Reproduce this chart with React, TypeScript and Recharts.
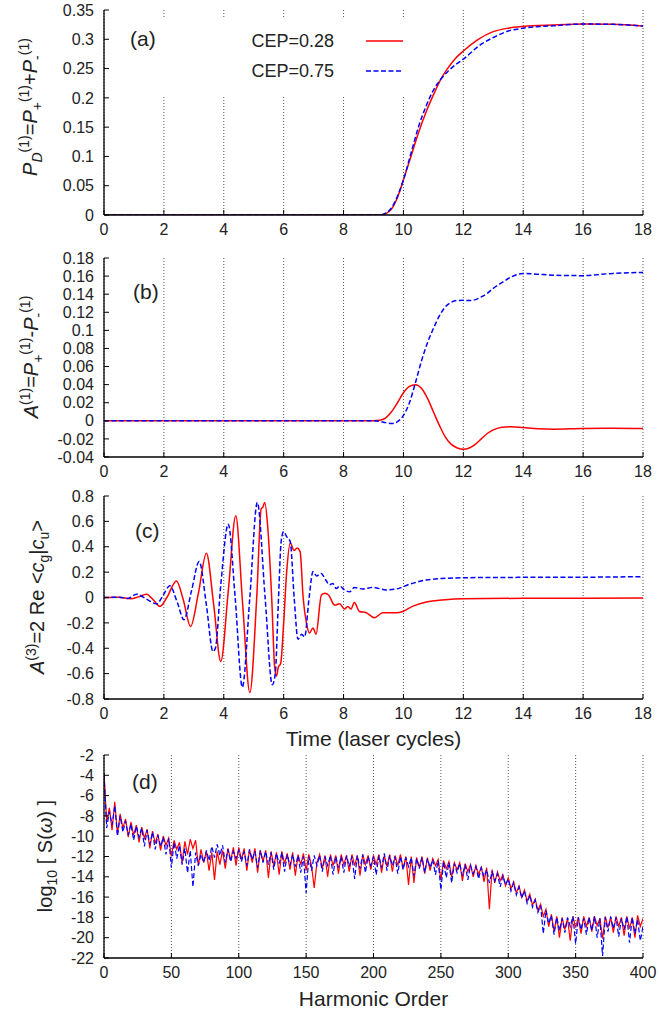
import React from 'react';
import { LineChart, Line, XAxis, YAxis, CartesianGrid, Legend } from 'recharts';

// Four stacked gnuplot-style panels: (a) population, (b) asymmetry, (c) coherence, (d) HHG spectrum.

const FONT = '"Liberation Sans", Arial, Helvetica, sans-serif';
const INK = '#222';
const RED = '#ff0000';
const BLUE = '#0000ff';
const BLUE_DASH = '5 2.5';

const RED_NAME = 'CEP=0.28';
const BLUE_NAME = 'CEP=0.75';

const timeTicks = [0, 2, 4, 6, 8, 10, 12, 14, 16, 18];
const harmonicTicks = [0, 50, 100, 150, 200, 250, 300, 350, 400];
const popTicks = [0, 0.05, 0.1, 0.15, 0.2, 0.25, 0.3, 0.35];
const asymTicks = [-0.04, -0.02, 0, 0.02, 0.04, 0.06, 0.08, 0.1, 0.12, 0.14, 0.16, 0.18];
const coherenceTicks = [-0.8, -0.6, -0.4, -0.2, 0, 0.2, 0.4, 0.6, 0.8];
const spectrumTicks = [-22, -20, -18, -16, -14, -12, -10, -8, -6, -4, -2];

// (a) P_D
const popTime = [0, 9.0, 9.2, 9.4, 9.6, 9.8, 10, 10.25, 10.5, 10.75, 11, 11.25, 11.5, 11.75, 12, 12.5, 13, 13.5, 14, 15, 16, 17, 18];
const popRed = [0, 0, 0, 0.002, 0.01, 0.03, 0.06, 0.1, 0.14, 0.175, 0.205, 0.232, 0.252, 0.268, 0.28, 0.3, 0.313, 0.319, 0.322, 0.3245, 0.326, 0.3255, 0.3225];
const popBlue = [0, 0, 0, 0.003, 0.012, 0.032, 0.06, 0.105, 0.15, 0.185, 0.213, 0.232, 0.246, 0.257, 0.266, 0.288, 0.303, 0.314, 0.319, 0.323, 0.326, 0.3255, 0.3225];

// (b) A^(1)
const asymTime = [0, 9.0, 9.2, 9.4, 9.6, 9.8, 10.0, 10.2, 10.4, 10.6, 10.8, 11.0, 11.2, 11.4, 11.6, 11.8, 12.0, 12.2, 12.4, 12.6, 12.8, 13.0, 13.3, 13.6, 14, 14.5, 15, 16, 17, 18];
const asymRed = [0, 0, 0.0005, 0.003, 0.01, 0.02, 0.031, 0.038, 0.04, 0.036, 0.025, 0.01, -0.005, -0.018, -0.026, -0.03, -0.0315, -0.03, -0.026, -0.02, -0.014, -0.01, -0.007, -0.0065, -0.0075, -0.0088, -0.0092, -0.0085, -0.0082, -0.0085];
const asymBlue = [0, 0, -0.0005, -0.002, -0.003, -0.001, 0.006, 0.02, 0.042, 0.066, 0.086, 0.102, 0.116, 0.126, 0.131, 0.133, 0.1332, 0.133, 0.134, 0.137, 0.141, 0.1465, 0.153, 0.159, 0.163, 0.162, 0.161, 0.1605, 0.163, 0.164];

// (c) A^(3)
const cohTimeRed = [0, 0.5, 0.9, 1.15, 1.42, 1.65, 1.87, 2.1, 2.42, 2.65, 2.89, 3.15, 3.42, 3.66, 3.9, 4.15, 4.4, 4.63, 4.87, 5.1, 5.25, 5.3, 5.37, 5.47, 5.6, 5.7, 5.76, 5.82, 5.9, 6.0, 6.1, 6.22, 6.35, 6.45, 6.55, 6.65, 6.76, 6.86, 6.98, 7.08, 7.26, 7.38, 7.5, 7.7, 7.87, 8.03, 8.14, 8.25, 8.36, 8.53, 8.76, 9.03, 9.31, 9.76, 9.98, 10.3, 10.76, 11.4, 12, 14, 16, 18];
const cohRed = [0, 0.002, -0.01, 0.005, 0.026, -0.02, -0.071, 0.0, 0.131, -0.02, -0.229, 0.03, 0.349, -0.05, -0.504, 0.05, 0.644, -0.05, -0.749, 0.0, 0.7, 0.71, 0.749, 0.55, 0.0, -0.55, -0.62, -0.55, -0.52, -0.2, 0.2, 0.43, 0.37, 0.39, 0.36, 0.0, -0.2, -0.28, -0.24, -0.29, 0.02, 0.034, 0.02, -0.06, -0.05, -0.09, -0.07, -0.09, -0.04, -0.11, -0.12, -0.16, -0.12, -0.12, -0.11, -0.07, -0.035, -0.017, -0.01, -0.006, -0.005, -0.004];
const cohTimeBlue = [0, 0.5, 0.8, 1.09, 1.4, 1.76, 1.98, 2.2, 2.45, 2.67, 2.92, 3.18, 3.42, 3.64, 3.72, 3.9, 4.15, 4.38, 4.62, 4.87, 5.12, 5.38, 5.62, 5.72, 5.82, 5.92, 6.0, 6.1, 6.22, 6.35, 6.48, 6.6, 6.7, 6.85, 6.98, 7.1, 7.25, 7.4, 7.53, 7.64, 7.76, 7.87, 8.03, 8.2, 8.36, 8.64, 8.98, 9.42, 9.76, 10.2, 10.76, 11.4, 12, 14.2, 16, 18];
const cohBlue = [0, 0.002, -0.008, 0.026, -0.01, -0.05, 0.02, 0.092, -0.04, -0.176, 0.05, 0.284, -0.06, -0.426, -0.4, 0.1, 0.578, 0.0, -0.707, 0.0, 0.749, 0.0, -0.688, -0.6, -0.05, 0.45, 0.52, 0.48, 0.44, 0.0, -0.33, -0.29, -0.31, 0.0, 0.205, 0.17, 0.19, 0.14, 0.1, 0.11, 0.07, 0.09, 0.06, 0.045, 0.078, 0.067, 0.08, 0.06, 0.067, 0.104, 0.138, 0.151, 0.156, 0.159, 0.16, 0.164];

// (d) log10 S(w), read every 2 harmonic orders from 0 to 400
const redSpectrum = [
  -3.7, -8.6, -7.2, -9.4, -6.6, -9.8, -7.8, -9.2, -8.3, -10.1,
  -8.6, -9.9, -8.9, -10.6, -9.1, -10.2, -9.3, -11.2, -9.5, -10.7,
  -9.8, -11.4, -10.0, -10.9, -10.2, -12.0, -10.4, -11.3, -10.6, -12.6,
  -10.5, -11.8, -10.3, -11.2, -10.4, -12.9, -11.3, -12.6, -11.5, -13.4,
  -11.6, -14.3, -11.5, -12.8, -11.4, -13.2, -11.2, -12.4, -11.1, -12.9,
  -11.1, -12.3, -11.2, -13.4, -11.3, -12.6, -11.2, -13.6, -11.4, -12.5,
  -11.4, -14.1, -11.5, -12.9, -11.6, -13.8, -11.5, -12.7, -11.7, -13.3,
  -11.6, -13.9, -11.8, -12.8, -11.7, -13.4, -11.8, -12.9, -15.1, -12.6,
  -11.8, -13.2, -11.9, -14.0, -11.8, -12.9, -11.9, -13.7, -11.8, -12.8,
  -11.9, -13.5, -11.8, -12.9, -11.9, -13.9, -11.8, -12.8, -11.9, -13.3,
  -11.9, -12.8, -11.8, -13.6, -11.9, -13.0, -11.8, -13.5, -11.9, -12.9,
  -11.8, -13.2, -12.0, -14.8, -12.0, -14.6, -12.1, -13.1, -12.0, -13.7,
  -12.1, -13.4, -12.2, -12.9, -12.3, -14.3, -12.4, -13.2, -12.5, -14.0,
  -12.6, -13.3, -12.6, -14.4, -12.7, -13.5, -12.8, -14.0, -12.9, -13.8,
  -13.0, -14.5, -13.1, -17.2, -13.3, -14.6, -13.5, -14.4, -13.8, -14.9,
  -14.1, -15.2, -14.5, -15.6, -14.9, -16.0, -15.3, -16.4, -15.7, -16.8,
  -16.2, -17.3, -16.7, -17.9, -17.2, -18.9, -17.7, -19.4, -17.9, -20.0,
  -18.0, -19.2, -18.1, -20.3, -17.9, -19.0, -18.0, -19.6, -17.9, -18.9,
  -18.0, -19.4, -17.9, -18.8, -18.1, -20.1, -17.9, -19.0, -18.0, -19.5,
  -17.9, -18.9, -18.0, -19.8, -17.9, -19.1, -18.0, -20.0, -17.8, -18.9,
  -18.1,
];
const blueSpectrum = [
  -3.9, -9.2, -7.6, -8.9, -7.0, -10.0, -8.0, -9.6, -8.5, -9.9,
  -8.8, -10.4, -9.0, -10.1, -9.2, -11.0, -9.4, -10.8, -9.6, -11.3,
  -9.9, -11.0, -10.1, -11.8, -10.2, -13.1, -10.6, -12.2, -10.9, -12.8,
  -11.2, -13.6, -11.4, -15.0, -11.6, -12.9, -11.8, -12.6, -11.4, -12.4,
  -11.0, -12.1, -10.8, -11.9, -10.9, -12.6, -11.3, -12.5, -11.5, -12.2,
  -11.4, -12.5, -11.5, -12.9, -11.3, -12.3, -11.5, -13.1, -11.4, -12.6,
  -11.5, -12.8, -11.6, -13.3, -11.7, -12.7, -11.6, -13.5, -11.8, -12.9,
  -11.8, -13.0, -11.9, -13.6, -12.0, -15.6, -12.0, -13.4, -11.9, -12.9,
  -11.9, -13.5, -12.0, -12.9, -11.9, -13.8, -12.0, -13.1, -12.0, -13.6,
  -11.9, -13.0, -12.0, -14.2, -11.9, -13.2, -11.8, -13.6, -12.0, -12.9,
  -12.0, -13.8, -11.9, -13.1, -11.7, -13.4, -11.9, -12.9, -12.0, -13.7,
  -12.0, -13.3, -12.1, -13.0, -12.1, -13.9, -12.2, -13.2, -12.1, -13.6,
  -12.2, -13.1, -12.3, -13.8, -12.4, -15.3, -12.5, -14.1, -12.6, -14.6,
  -12.7, -13.6, -12.7, -13.9, -12.8, -14.3, -12.9, -13.7, -13.0, -14.2,
  -13.1, -14.0, -13.3, -14.6, -13.5, -14.4, -13.7, -15.0, -13.9, -14.8,
  -14.2, -15.4, -14.6, -15.8, -15.0, -16.1, -15.4, -16.6, -15.8, -17.0,
  -16.3, -17.5, -16.8, -19.6, -17.3, -18.6, -17.8, -19.7, -18.0, -19.3,
  -18.1, -19.5, -18.0, -18.9, -17.9, -20.6, -18.0, -19.2, -18.1, -19.7,
  -18.0, -19.3, -17.9, -20.0, -18.1, -21.8, -18.0, -19.4, -17.9, -19.1,
  -18.0, -19.9, -18.1, -19.2, -17.9, -20.5, -18.0, -19.6, -18.2, -20.3,
  -18.9,
];
const harmonicOrder = redSpectrum.map((_, i) => i * 2);

type Pt = { x: number; y: number };
const toPoints = (xs: number[], ys: number[]): Pt[] => xs.map((x, i) => ({ x, y: ys[i] }));

interface SeriesDef {
  name: string;
  color: string;
  dash?: string;
  points: Pt[];
  curve: 'monotone' | 'linear';
  width: number;
}

const tickStyle = { fill: INK, fontSize: 16, fontFamily: FONT };
const axisLine = { stroke: '#000', strokeWidth: 1.3 };
const tickLine = { stroke: '#000', strokeWidth: 1 };

interface PanelProps {
  top: number;
  height: number;
  marginTop: number;
  marginBottom: number;
  axisHeight: number;
  xDomain: [number, number];
  xTicks: number[];
  yDomain: [number, number];
  yTicks: number[];
  series: SeriesDef[];
  legend?: React.ReactNode;
  children?: React.ReactNode;
}

function Panel({ top, height, marginTop, marginBottom, axisHeight, xDomain, xTicks, yDomain, yTicks, series, legend, children }: PanelProps) {
  return (
    <div style={{ position: 'absolute', left: 0, top }}>
      <LineChart width={659} height={height} margin={{ top: marginTop, right: 16, bottom: marginBottom, left: 0 }}>
        <CartesianGrid xAxisId="b" yAxisId="l" horizontal={false} stroke="#555" strokeDasharray="1 2" />
        <XAxis
          xAxisId="b"
          type="number"
          dataKey="x"
          domain={xDomain}
          ticks={xTicks}
          interval={0}
          allowDataOverflow
          height={axisHeight}
          tickSize={-5}
          tickMargin={14}
          axisLine={axisLine}
          tickLine={tickLine}
          tick={tickStyle}
        />
        <XAxis
          xAxisId="t"
          orientation="top"
          type="number"
          domain={xDomain}
          ticks={xTicks}
          interval={0}
          allowDataOverflow
          height={0}
          tickSize={-5}
          axisLine={axisLine}
          tickLine={tickLine}
          tick={false}
        />
        <YAxis
          yAxisId="l"
          type="number"
          domain={yDomain}
          ticks={yTicks}
          interval={0}
          allowDataOverflow
          width={104}
          tickSize={-5}
          tickMargin={15}
          axisLine={axisLine}
          tickLine={tickLine}
          tick={tickStyle}
        />
        <YAxis
          yAxisId="r"
          orientation="right"
          type="number"
          domain={yDomain}
          ticks={yTicks}
          interval={0}
          allowDataOverflow
          width={0}
          tickSize={-5}
          axisLine={axisLine}
          tickLine={tickLine}
          tick={false}
        />
        {series.map((s) => (
          <Line
            key={s.name}
            xAxisId="b"
            yAxisId="l"
            data={s.points}
            dataKey="y"
            name={s.name}
            type={s.curve}
            stroke={s.color}
            strokeWidth={s.width}
            strokeDasharray={s.dash}
            dot={false}
            activeDot={false}
            isAnimationActive={false}
          />
        ))}
        {legend}
        {children}
      </LineChart>
    </div>
  );
}

function KeyBox(props: any) {
  const payload = props.payload || [];
  return (
    <svg width={246} height={78} style={{ display: 'block', background: '#fff' }}>
      {payload.map((entry: any, i: number) => (
        <g key={entry.value}>
          <text x={172} y={30 + i * 30} textAnchor="end" fontSize={18} fontFamily={FONT} fill={INK}>
            {entry.value}
          </text>
          <line
            x1={204}
            x2={241}
            y1={24 + i * 30}
            y2={24 + i * 30}
            stroke={entry.color}
            strokeWidth={1.5}
            strokeDasharray={entry.color === BLUE ? BLUE_DASH : undefined}
          />
        </g>
      ))}
    </svg>
  );
}

const SUB = 14;
const labelText = { fontSize: 20, fontFamily: FONT, fill: INK, textAnchor: 'middle' as const };
const letterText = { fontSize: 21, fontFamily: FONT, fill: INK };

function pair(a: Pt[], b: Pt[], curve: SeriesDef['curve'], width: number): SeriesDef[] {
  return [
    { name: RED_NAME, color: RED, points: a, curve, width },
    { name: BLUE_NAME, color: BLUE, dash: BLUE_DASH, points: b, curve, width },
  ];
}

export default function App() {
  return (
    <div style={{ position: 'absolute', left: 0, top: 0, width: 659, height: 1014, background: '#fff' }}>
      <Panel
        top={0}
        height={240}
        marginTop={10}
        marginBottom={0}
        axisHeight={25}
        xDomain={[0, 18]}
        xTicks={timeTicks}
        yDomain={[0, 0.35]}
        yTicks={popTicks}
        series={pair(toPoints(popTime, popRed), toPoints(popTime, popBlue), 'monotone', 1.5)}
        legend={
          <Legend
            layout="horizontal"
            verticalAlign="middle"
            align="center"
            content={<KeyBox />}
            wrapperStyle={{ left: 162, top: 17, width: 246, height: 78 }}
          />
        }
      >
        <text x={130} y={46} {...letterText}>(a)</text>
        <text x={37} y={107} transform="rotate(-90 37 107)" {...labelText}>
          <tspan fontStyle="italic">P</tspan>
          <tspan fontSize={SUB} fontStyle="italic" dy={5}>D</tspan>
          <tspan fontSize={SUB} dy={-13}>(1)</tspan>
          <tspan dy={8}>=</tspan>
          <tspan fontStyle="italic">P</tspan>
          <tspan fontSize={SUB} dy={5}>+</tspan>
          <tspan fontSize={SUB} dy={-13}>(1)</tspan>
          <tspan dy={8}>+</tspan>
          <tspan fontStyle="italic">P</tspan>
          <tspan fontSize={SUB} dy={5}>-</tspan>
          <tspan fontSize={SUB} dy={-13}>(1)</tspan>
        </text>
      </Panel>

      <Panel
        top={240}
        height={240}
        marginTop={18}
        marginBottom={0}
        axisHeight={23}
        xDomain={[0, 18]}
        xTicks={timeTicks}
        yDomain={[-0.04, 0.18]}
        yTicks={asymTicks}
        series={pair(toPoints(asymTime, asymRed), toPoints(asymTime, asymBlue), 'monotone', 1.5)}
      >
        <text x={133} y={59} {...letterText}>(b)</text>
        <text x={38} y={117} transform="rotate(-90 38 117)" {...labelText}>
          <tspan fontStyle="italic">A</tspan>
          <tspan fontSize={SUB} dy={-8}>(1)</tspan>
          <tspan dy={8}>=</tspan>
          <tspan fontStyle="italic">P</tspan>
          <tspan fontSize={SUB} dy={5}>+</tspan>
          <tspan fontSize={SUB} dy={-13}>(1)</tspan>
          <tspan dy={8}>-</tspan>
          <tspan fontStyle="italic">P</tspan>
          <tspan fontSize={SUB} dy={5}>-</tspan>
          <tspan fontSize={SUB} dy={-13}>(1)</tspan>
        </text>
      </Panel>

      <Panel
        top={480}
        height={275}
        marginTop={16}
        marginBottom={6}
        axisHeight={50}
        xDomain={[0, 18]}
        xTicks={timeTicks}
        yDomain={[-0.8, 0.8]}
        yTicks={coherenceTicks}
        series={pair(toPoints(cohTimeRed, cohRed), toPoints(cohTimeBlue, cohBlue), 'monotone', 1.5)}
      >
        <text x={135} y={58} {...letterText}>(c)</text>
        <text x={44} y={117} transform="rotate(-90 44 117)" {...labelText}>
          <tspan fontStyle="italic">A</tspan>
          <tspan fontSize={SUB} dy={-8}>(3)</tspan>
          <tspan dy={8}>=2 Re &lt;</tspan>
          <tspan fontStyle="italic">c</tspan>
          <tspan fontSize={SUB} dy={5}>g</tspan>
          <tspan dy={-5}>|</tspan>
          <tspan fontStyle="italic">c</tspan>
          <tspan fontSize={SUB} dy={5}>u</tspan>
          <tspan dy={-5}>&gt;</tspan>
        </text>
        <text x={373.5} y={266} {...labelText} fontSize={21}>Time (laser cycles)</text>
      </Panel>

      <Panel
        top={740}
        height={274}
        marginTop={15}
        marginBottom={0}
        axisHeight={56}
        xDomain={[0, 400]}
        xTicks={harmonicTicks}
        yDomain={[-22, -2]}
        yTicks={spectrumTicks}
        series={pair(toPoints(harmonicOrder, redSpectrum), toPoints(harmonicOrder, blueSpectrum), 'linear', 1.2)}
      >
        <text x={132} y={49} {...letterText}>(d)</text>
        <text x={52} y={116} transform="rotate(-90 52 116)" {...labelText}>
          <tspan>log</tspan>
          <tspan fontSize={SUB} dy={5}>10</tspan>
          <tspan dy={-5}> [ S(</tspan>
          <tspan fontStyle="italic">ω</tspan>
          <tspan>) ]</tspan>
        </text>
        <text x={373.5} y={266} {...labelText} fontSize={21}>Harmonic Order</text>
      </Panel>
    </div>
  );
}
